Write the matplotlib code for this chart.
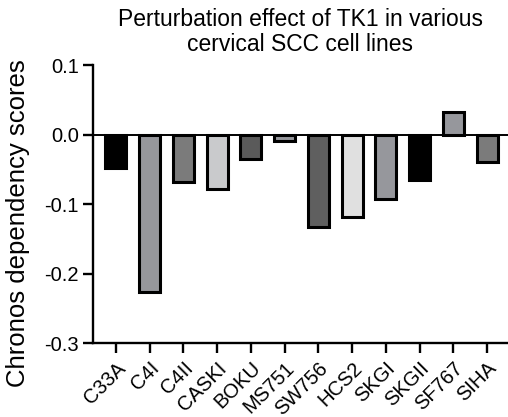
import numpy as np
import matplotlib
matplotlib.use('Agg')
import matplotlib.pyplot as plt

plt.rcParams['font.family'] = ['Liberation Sans', 'DejaVu Sans']

cell_lines = ['C33A', 'C4I', 'C4II', 'CASKI', 'BOKU', 'MS751', 'SW756',
              'HCS2', 'SKGI', 'SKGII', 'SF767', 'SIHA']
scores = [-0.048, -0.226, -0.068, -0.078, -0.035, -0.009, -0.133,
          -0.118, -0.093, -0.065, 0.033, -0.039]
fills = ['#000000', '#96979c', '#7b7b7b', '#c9cacc', '#5a5a5a', '#96979c',
         '#5f5f5f', '#e0e0e0', '#96979c', '#000000', '#96979c', '#7b7b7b']

fig = plt.figure(figsize=(5.08, 4.17), dpi=100)
ax = fig.add_axes([0.183, 0.177, 0.817, 0.667])

x = np.arange(len(cell_lines))
ax.bar(x, scores, width=0.62, color=fills, edgecolor='black', linewidth=2.2, zorder=3)
ax.axhline(0, color='black', linewidth=1.4, zorder=4)

ax.set_xlim(-0.68, 11.62)
ax.set_ylim(-0.3, 0.1)
ax.set_yticks([-0.3, -0.2, -0.1, 0.0, 0.1])
ax.set_yticklabels(['-0.3', '-0.2', '-0.1', '0.0', '0.1'])
ax.set_xticks(x)
ax.set_xticklabels(cell_lines, rotation=45, ha='right', rotation_mode='anchor')

for s in ['top', 'right']:
    ax.spines[s].set_visible(False)
for s in ['left', 'bottom']:
    ax.spines[s].set_linewidth(1.7)
ax.tick_params(axis='both', width=1.7, length=7, labelsize=14.5, pad=3)
ax.tick_params(axis='x', pad=4)

ax.set_ylabel('Chronos dependency scores', fontsize=18.5)
ax.yaxis.set_label_coords(-0.152, 0.43)
ax.set_title('Perturbation effect of TK1 in various\ncervical SCC cell lines',
             fontsize=16.5, pad=10, linespacing=1.1)

fig.savefig('out.png', dpi=100)
